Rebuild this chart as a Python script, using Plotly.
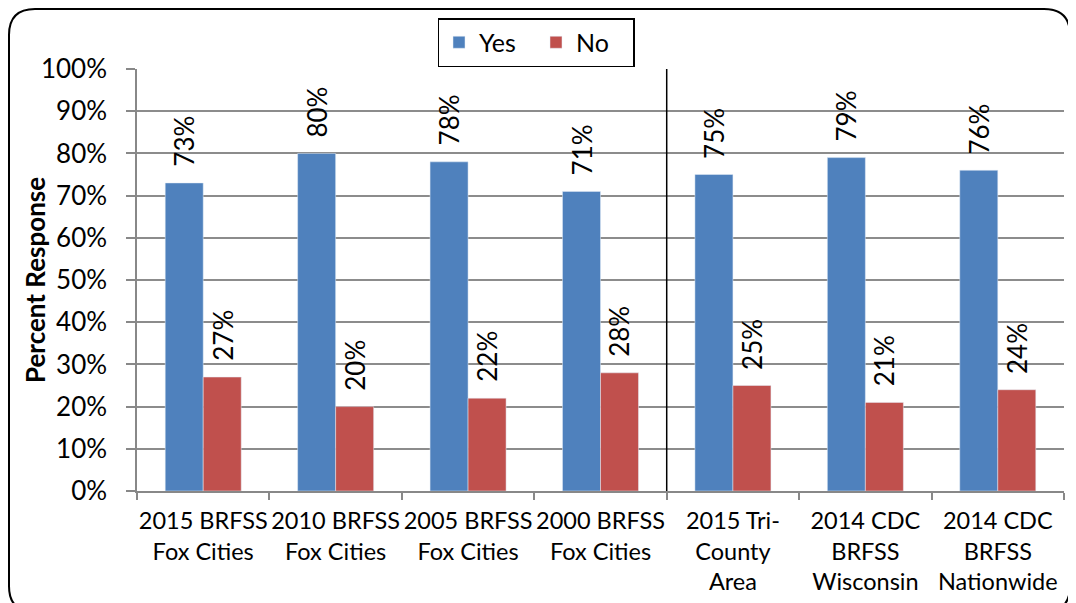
import plotly.graph_objects as go

categories = [
    "2015 BRFSS<br>Fox Cities",
    "2010 BRFSS<br>Fox Cities",
    "2005 BRFSS<br>Fox Cities",
    "2000 BRFSS<br>Fox Cities",
    "2015 Tri-<br>County<br>Area",
    "2014 CDC<br>BRFSS<br>Wisconsin",
    "2014 CDC<br>BRFSS<br>Nationwide",
]
yes_values = [0.73, 0.80, 0.78, 0.71, 0.75, 0.79, 0.76]
no_values = [0.27, 0.20, 0.22, 0.28, 0.25, 0.21, 0.24]

BLUE = "#4F81BD"
RED = "#C0504D"
FONT = "Lato"

# page body has an 8px default margin; figure coordinates = page - 8
OFF = 8
W, H = 1076 - OFF, 603 - OFF
ML, MT = 137 - OFF, 69 - OFF
PW = 1064 - 137
PH = 491 - 69
MR = W - ML - PW
MB = H - MT - PH


def px2paper(x, y):
    # x, y in page pixels
    return (x - OFF - ML) / PW, (MT + PH - (y - OFF)) / PH


fig = go.Figure()
fig.add_trace(go.Bar(name="Yes", x=categories, y=yes_values, marker_color=BLUE))
fig.add_trace(go.Bar(name="No", x=categories, y=no_values, marker_color=RED))

annotations = []
for i, c in enumerate(categories):
    for val, shift in ((yes_values[i], -19), (no_values[i], 19)):
        annotations.append(dict(
            x=c, y=val, xref="x", yref="y", text=f"{round(val*100)}%",
            textangle=-90, showarrow=False, xanchor="center", yanchor="bottom",
            xshift=shift, yshift=14, font=dict(family=FONT, size=26, color="black"),
        ))

tx, ty = px2paper(35, 0)
annotations.append(dict(
    x=tx, y=0.5, xref="paper", yref="paper", text="<b>Percent Response</b>",
    textangle=-90, showarrow=False, xanchor="center", yanchor="middle",
    font=dict(family=FONT, size=26, color="black"),
))

# rounded outer border (page pixel coordinates)
x0, y0, x1, y1, r = 9, 9, 1070, 612, 26
def P(x, y):
    a, b = px2paper(x, y)
    return f"{a:.5f},{b:.5f}"
path = (f"M {P(x0+r, y0)} L {P(x1-r, y0)} Q {P(x1, y0)} {P(x1, y0+r)} "
        f"L {P(x1, y1-r)} Q {P(x1, y1)} {P(x1-r, y1)} L {P(x0+r, y1)} "
        f"Q {P(x0, y1)} {P(x0, y1-r)} L {P(x0, y0+r)} Q {P(x0, y0)} {P(x0+r, y0)} Z")

shapes = [
    dict(type="path", xref="paper", yref="paper", path=path,
         line=dict(color="black", width=2), layer="above"),
    dict(type="line", xref="x", yref="paper", x0=3.5, x1=3.5, y0=0, y1=1,
         line=dict(color="black", width=1.5)),
]

lx, ly = px2paper(536, 18)

fig.update_layout(
    width=W, height=H,
    margin=dict(l=ML, r=MR, t=MT, b=MB, autoexpand=False),
    paper_bgcolor="white", plot_bgcolor="white",
    barmode="group", bargap=0.426, bargroupgap=0,
    font=dict(family=FONT, size=25, color="black"),
    legend=dict(orientation="h", x=lx, y=ly, xanchor="center", yanchor="top",
                bordercolor="black", borderwidth=1.5, bgcolor="white",
                font=dict(family=FONT, size=25), itemwidth=30,
                entrywidth=52, entrywidthmode="pixels",
                tracegroupgap=0),
    annotations=annotations,
    shapes=shapes,
    xaxis=dict(type="category", tickson="boundaries", ticks="outside", ticklen=7,
               tickcolor="#888", tickwidth=1.5, showline=True, linecolor="#888",
               linewidth=1.5, showgrid=False, tickangle=0, ticklabelstandoff=8,
               tickfont=dict(family=FONT, size=23.5)),
    yaxis=dict(range=[0, 1], dtick=0.1, tickformat=".0%", ticks="outside",
               ticklen=9, tickcolor="#888", tickwidth=1.5, showline=True,
               linecolor="#888", linewidth=1.5, showgrid=True, gridcolor="#8c8c8c",
               gridwidth=1.5, zeroline=False, ticklabelstandoff=14,
               tickfont=dict(family=FONT, size=26)),
)

fig.write_html("out.html")
